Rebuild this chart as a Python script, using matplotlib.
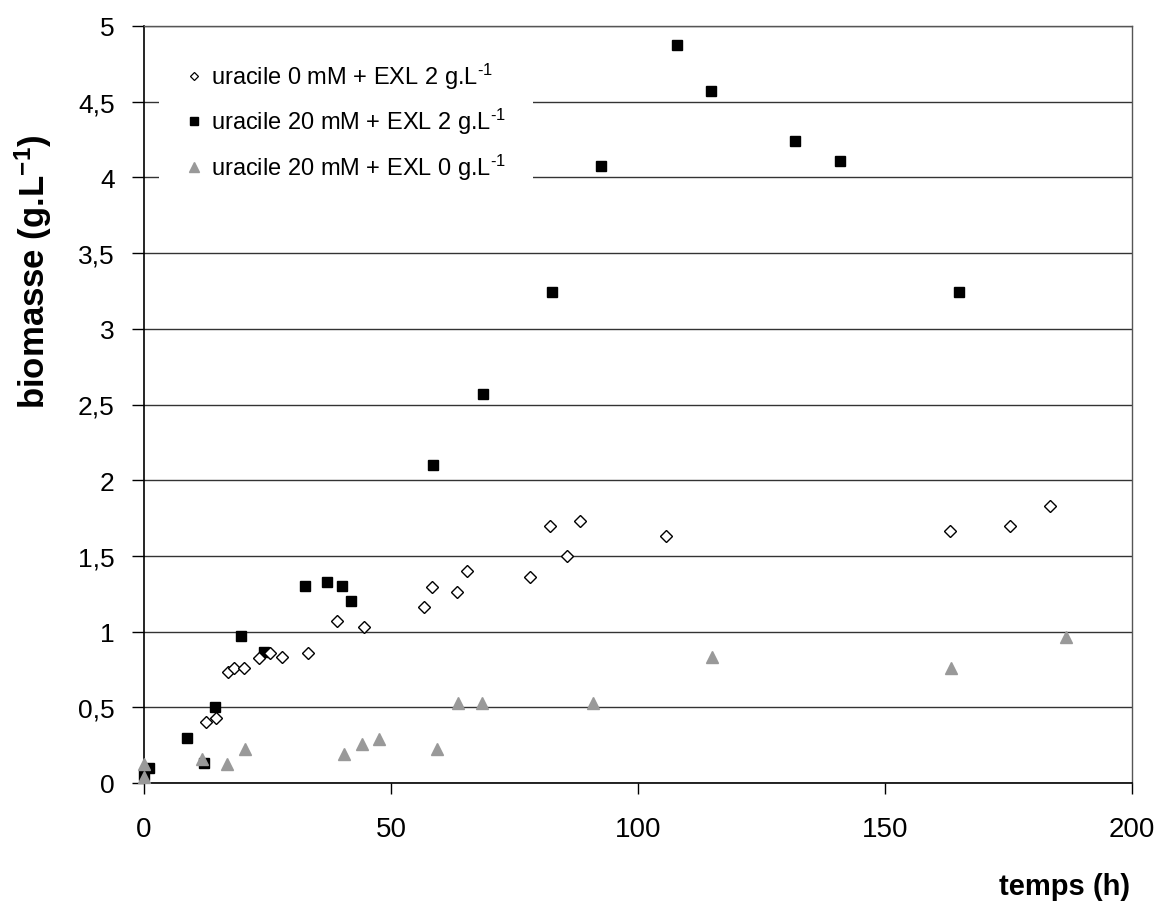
import matplotlib
matplotlib.use('Agg')
import matplotlib.pyplot as plt
from matplotlib.lines import Line2D

plt.rcParams['font.family'] = ['Liberation Sans', 'DejaVu Sans']
plt.rcParams['mathtext.fontset'] = 'custom'
plt.rcParams['mathtext.rm'] = 'Liberation Sans'
plt.rcParams['mathtext.it'] = 'Liberation Sans'
plt.rcParams['mathtext.bf'] = 'Liberation Sans:bold'

# uracile 0 mM + EXL 2 g/L (losanges blancs)
t_u0 = [12.5, 14.6, 17.0, 18.3, 20.3, 23.3, 25.5, 28.0, 33.1, 39.0, 44.5,
        56.7, 58.4, 63.3, 65.3, 78.2, 82.2, 85.7, 88.3, 105.7, 163.2, 175.4, 183.5]
b_u0 = [0.40, 0.43, 0.73, 0.76, 0.76, 0.825, 0.86, 0.83, 0.86, 1.07, 1.03,
        1.165, 1.295, 1.264, 1.40, 1.36, 1.70, 1.50, 1.73, 1.63, 1.665, 1.70, 1.83]

# uracile 20 mM + EXL 2 g/L (carres noirs)
t_u20 = [0.0, 1.0, 8.8, 12.1, 14.4, 19.6, 24.3, 32.6, 37.0, 40.1, 41.9,
         58.5, 68.6, 82.6, 92.5, 107.9, 114.8, 131.8, 140.9, 165.0]
b_u20 = [0.05, 0.10, 0.30, 0.13, 0.50, 0.97, 0.865, 1.30, 1.33, 1.30, 1.20,
         2.10, 2.57, 3.24, 4.075, 4.875, 4.57, 4.24, 4.11, 3.24]

# uracile 20 mM + EXL 0 g/L (triangles gris)
t_exl0 = [0.0, 0.0, 11.8, 16.9, 20.5, 40.5, 44.2, 47.6, 59.4, 63.5, 68.4,
          90.8, 115.0, 163.4, 186.7]
b_exl0 = [0.125, 0.04, 0.16, 0.125, 0.225, 0.19, 0.26, 0.29, 0.225, 0.53, 0.53,
          0.53, 0.83, 0.76, 0.965]

xticks = [0, 50, 100, 150, 200]
yticks = [0, 0.5, 1, 1.5, 2, 2.5, 3, 3.5, 4, 4.5, 5]
ytick_labels = ['0', '0,5', '1', '1,5', '2', '2,5', '3', '3,5', '4', '4,5', '5']

labels = ['uracile 0 mM + EXL 2 g.L$^{\\text{-1}}$',
          'uracile 20 mM + EXL 2 g.L$^{\\text{-1}}$',
          'uracile 20 mM + EXL 0 g.L$^{\\text{-1}}$']

fig = plt.figure(figsize=(11.63, 9.04), dpi=100)
ax = fig.add_axes([144 / 1163, 1 - 784 / 904, 988 / 1163, 757 / 904])

ax.plot(t_u20, b_u20, 's', color='black', markersize=7.5, clip_on=False, zorder=3)
ax.plot(t_u0, b_u0, 'D', markerfacecolor='white', markeredgecolor='black',
        markersize=6.0, markeredgewidth=1.0, clip_on=False, zorder=4)
ax.plot(t_exl0, b_exl0, '^', color='#999999', markersize=9, clip_on=False, zorder=5)

ax.set_xlim(0, 200)
ax.set_ylim(0, 5)
ax.set_xticks(xticks)
ax.set_yticks(yticks)
ax.set_yticklabels(ytick_labels)
ax.tick_params(axis='x', direction='out', length=8, width=1, labelsize=20, pad=16)
ax.tick_params(axis='y', direction='out', length=9, width=1, labelsize=19, pad=12)

ax.yaxis.grid(True, color='#333333', linewidth=1.0)
ax.set_axisbelow(True)
for side in ['left', 'bottom']:
    ax.spines[side].set_color('black')
    ax.spines[side].set_linewidth(1.2)
for side in ['top', 'right']:
    ax.spines[side].set_color('#555555')
    ax.spines[side].set_linewidth(1.0)

handles = [
    Line2D([], [], linestyle='none', marker='D', markerfacecolor='white',
           markeredgecolor='black', markersize=4.5, markeredgewidth=0.9),
    Line2D([], [], linestyle='none', marker='s', color='black', markersize=6),
    Line2D([], [], linestyle='none', marker='^', color='#999999', markersize=7),
]
leg = ax.legend(handles, labels, loc='upper left', bbox_to_anchor=(0.015, 0.99),
                fontsize=17, frameon=True, fancybox=False, framealpha=1,
                facecolor='white', edgecolor='none', handlelength=0.7,
                handletextpad=0.35, labelspacing=0.65, borderpad=1.15,
                borderaxespad=0)
leg.set_zorder(6)

fig.text(1065 / 1163, 1 - 887 / 904, 'temps (h)', fontsize=21, fontweight='bold',
         ha='center', va='center')
fig.text(33 / 1163, 1 - 272 / 904, 'biomasse (g.L$^{\\mathbf{-1}}$)', fontsize=25,
         fontweight='bold', rotation=90, ha='center', va='center')

fig.savefig('out.png', dpi=100)
